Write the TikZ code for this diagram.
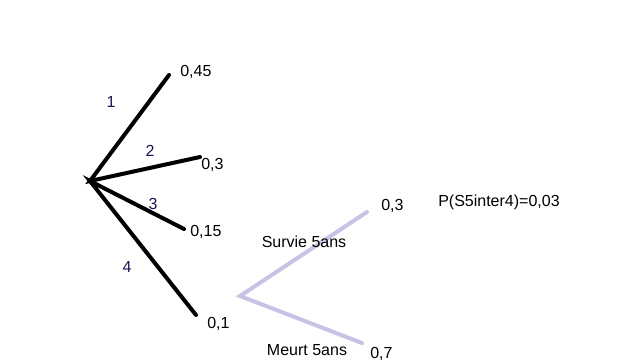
\documentclass[tikz,border=0pt]{standalone}
\usepackage{fontspec}
\setmainfont{Liberation Sans}
\definecolor{lav}{RGB}{200,195,230}
\definecolor{numc}{RGB}{20,20,90}
\begin{document}
\begin{tikzpicture}[x=0.75pt,y=-0.75pt,
  blk/.style={line width=3pt,black,line cap=round},
  lavline/.style={line width=3pt,lav,line cap=round},
  lbl/.style={inner sep=0pt,anchor=base west,font=\fontsize{12pt}{14pt}\selectfont},
  numl/.style={inner sep=0pt,anchor=base,text=numc,font=\fontsize{12pt}{14pt}\selectfont},
  ctr/.style={inner sep=0pt,anchor=base,font=\fontsize{12pt}{14pt}\selectfont}]
\useasboundingbox (0,0) rectangle (621,361);
\coordinate (r) at (90,181);
\coordinate (e1) at (169,75);
\coordinate (e2) at (200,157);
\coordinate (e3) at (184,229);
\coordinate (e4) at (196,315);
\coordinate (s) at (240,296);
\coordinate (su) at (367,212);
\coordinate (sd) at (362,343);
\draw[blk] (e1) -- (r) -- (e2);
\draw[blk] (e3) -- (r) -- (e4);
\draw[lavline] (su) -- (s) -- (sd);
\node[lbl] (p1) at (180,76) {0,45};
\node[lbl] (p2) at (201,169) {0,3};
\node[lbl] (p3) at (190,236) {0,15};
\node[lbl] (p4) at (207,328) {0,1};
\node[numl] (n1) at (111,107) {1};
\node[numl] (n2) at (150,156) {2};
\node[numl] (n3) at (153,209) {3};
\node[numl] (n4) at (127,272) {4};
\node[ctr] (sv) at (304,247) {Survie 5ans};
\node[ctr] (mt) at (307,355) {Meurt 5ans};
\node[lbl] (q1) at (381,210) {0,3};
\node[lbl] (q2) at (370,358) {0,7};
\node[lbl] (pr) at (438,206) {P(S5inter4)=0,03};
\end{tikzpicture}
\end{document}
